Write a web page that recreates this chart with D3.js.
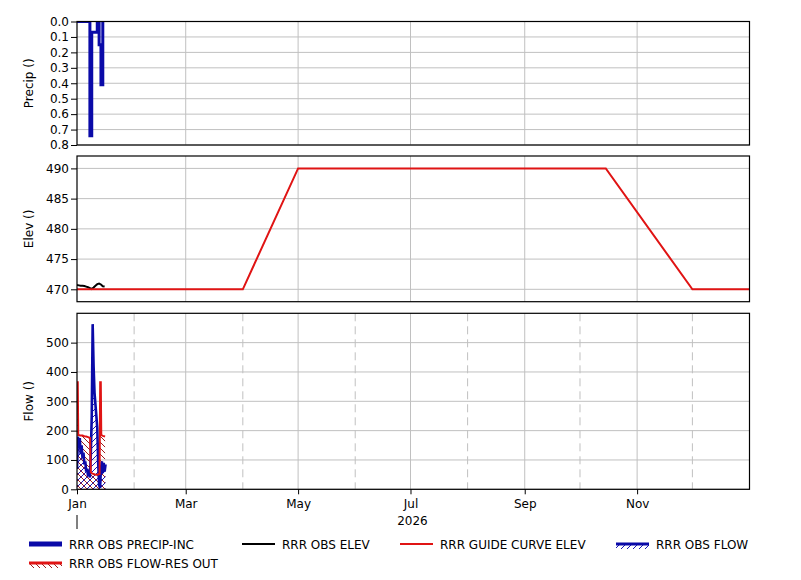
<!DOCTYPE html>
<html>
<head>
<meta charset="utf-8">
<script src="https://cdn.jsdelivr.net/npm/d3@7"></script>
<style>
body { margin: 0; background: #fff; }
text { font-family: "DejaVu Sans", Verdana, sans-serif; font-size: 12px; fill: #000; }
</style>
</head>
<body>
<svg id="chart" width="801" height="580"></svg>
<script>
// precipitation increments (daily)
var precipDates = ["2026-01-01","2026-01-02","2026-01-03","2026-01-04","2026-01-05","2026-01-06","2026-01-07",
  "2026-01-08","2026-01-09","2026-01-10","2026-01-11","2026-01-12","2026-01-13","2026-01-14","2026-01-15"];
var precipValues = [0, 0, 0, 0, 0, 0, 0, 0.74, 0.07, 0.07, 0.07, 0, 0.15, 0.41, 0];

// observed elevation (daily)
var elevDates = ["2026-01-01","2026-01-02","2026-01-03","2026-01-04","2026-01-05","2026-01-06","2026-01-07","2026-01-08",
  "2026-01-09","2026-01-10","2026-01-11","2026-01-12","2026-01-13","2026-01-14","2026-01-15","2026-01-16"];
var elevValues = [470.7, 470.65, 470.6, 470.6, 470.55, 470.45, 470.35, 470.2, 470.05, 470.3, 470.6, 470.85, 470.95, 470.8, 470.5, 470.45];

// guide curve
var guideDates = ["2026-01-01","2026-04-01","2026-05-01","2026-10-15","2026-12-01","2027-01-01"];
var guideValues = [470, 470, 490, 490, 470, 470];

// observed flow (12-hourly)
var flowDates = ["2026-01-01T00:00","2026-01-01T12:00","2026-01-02T00:00","2026-01-02T12:00","2026-01-03T00:00","2026-01-03T12:00",
  "2026-01-04T00:00","2026-01-04T12:00","2026-01-05T00:00","2026-01-05T12:00","2026-01-06T00:00","2026-01-06T12:00",
  "2026-01-07T00:00","2026-01-07T12:00","2026-01-08T00:00","2026-01-08T12:00","2026-01-09T00:00","2026-01-09T12:00",
  "2026-01-10T00:00","2026-01-10T12:00","2026-01-11T00:00","2026-01-11T12:00","2026-01-12T00:00","2026-01-12T12:00",
  "2026-01-13T00:00","2026-01-13T12:00","2026-01-14T00:00","2026-01-14T12:00","2026-01-15T00:00","2026-01-15T12:00",
  "2026-01-16T00:00","2026-01-16T12:00"];
var flowValues = [70, 180, 140, 175, 120, 150, 105, 125, 85, 95, 60, 70, 45, 55, 40, 120,
  250, 563, 420, 330, 290, 250, 210, 90, 15, 5, 70, 95, 55, 90, 60, 85];

// reservoir outflow
var resDates = ["2026-01-01T00:00","2026-01-01T10:00","2026-01-01T16:00","2026-01-02T00:00","2026-01-03T00:00","2026-01-04T00:00","2026-01-05T00:00",
  "2026-01-06T00:00","2026-01-07T00:00","2026-01-08T02:00","2026-01-08T12:00","2026-01-09T00:00","2026-01-10T00:00",
  "2026-01-11T00:00","2026-01-12T00:00","2026-01-13T06:00","2026-01-13T14:00","2026-01-13T22:00","2026-01-14T04:00",
  "2026-01-15T00:00","2026-01-16T06:00"];
var resValues = [365, 365, 185, 185, 183, 183, 181, 180, 178, 175, 58, 55, 52, 50, 50, 52, 365, 365, 185, 182, 180];

var precipTicks = [0, 0.1, 0.2, 0.3, 0.4, 0.5, 0.6, 0.7, 0.8];
var elevTicks = [470, 475, 480, 485, 490];
var flowTicks = [0, 100, 200, 300, 400, 500];

var BLUE = '#0a0aa8', RED = '#e01414', GRID = '#c0c0c0';
var dayParse = d3.utcParse('%Y-%m-%d');
var hourParse = d3.utcParse('%Y-%m-%dT%H:%M');

var svg = d3.select('#chart');
var defs = svg.append('defs');
defs.append('pattern').attr('id', 'hatchBlue').attr('patternUnits', 'userSpaceOnUse')
  .attr('width', 6).attr('height', 6)
  .append('path').attr('d', 'M0,6L6,0M-1,1L1,-1M5,7L7,5')
  .attr('stroke', '#1a1ab4').attr('stroke-width', 1);
defs.append('pattern').attr('id', 'hatchRed').attr('patternUnits', 'userSpaceOnUse')
  .attr('width', 6).attr('height', 6)
  .append('path').attr('d', 'M0,0L6,6M-1,5L1,7M5,-1L7,1')
  .attr('stroke', '#a01c1c').attr('stroke-width', 1);

var x = d3.scaleUtc()
  .domain([dayParse('2026-01-01'), dayParse('2027-01-01')])
  .range([77, 749.5]);
var majorMonths = d3.utcMonth.every(2).range(x.domain()[0], x.domain()[1]);
var minorMonths = d3.utcMonth.range(x.domain()[0], x.domain()[1]).filter(function(d) { return d.getUTCMonth() % 2 === 1; });

var panels = [
  { id: 'p1', top: 21.5, bottom: 145, domain: [0.8, 0], ticks: precipTicks, fmt: d3.format('.1f'), label: 'Precip ()', dashed: false },
  { id: 'p2', top: 156, bottom: 301.7, domain: [467.95, 492.05], ticks: elevTicks, fmt: d3.format('d'), label: 'Elev ()', dashed: false },
  { id: 'p3', top: 313.3, bottom: 489.3, domain: [0, 600], ticks: flowTicks, fmt: d3.format('d'), label: 'Flow ()', dashed: true }
];

panels.forEach(function(p) {
  p.y = d3.scaleLinear().domain(p.domain).range([p.bottom, p.top]);
  defs.append('clipPath').attr('id', 'clip-' + p.id)
    .append('rect').attr('x', x.range()[0]).attr('y', p.top)
    .attr('width', x.range()[1] - x.range()[0]).attr('height', p.bottom - p.top);
  var g = svg.append('g');
  // grid
  g.selectAll('.hg').data(p.ticks).enter().append('line')
    .attr('x1', x.range()[0]).attr('x2', x.range()[1])
    .attr('y1', function(d) { return p.y(d); }).attr('y2', function(d) { return p.y(d); })
    .attr('stroke', GRID).attr('stroke-width', 1);
  g.selectAll('.vg').data(majorMonths.slice(1)).enter().append('line')
    .attr('x1', function(d) { return x(d); }).attr('x2', function(d) { return x(d); })
    .attr('y1', p.top).attr('y2', p.bottom)
    .attr('stroke', GRID).attr('stroke-width', 1);
  if (p.dashed) {
    g.selectAll('.vd').data(minorMonths).enter().append('line')
      .attr('x1', function(d) { return x(d); }).attr('x2', function(d) { return x(d); })
      .attr('y1', p.top).attr('y2', p.bottom)
      .attr('stroke', GRID).attr('stroke-width', 1).attr('stroke-dasharray', '8,5');
  }
  p.plot = svg.append('g').attr('clip-path', 'url(#clip-' + p.id + ')');
  p.frame = svg.append('g');
  // y axis
  var ax = p.frame.append('g').attr('transform', 'translate(' + x.range()[0] + ',0)')
    .call(d3.axisLeft(p.y).tickValues(p.ticks).tickFormat(p.fmt).tickSize(6).tickPadding(2));
  ax.select('.domain').remove();
  ax.selectAll('text').style('font-family', '"DejaVu Sans", Verdana, sans-serif').style('font-size', '12px');
  p.frame.append('rect').attr('x', x.range()[0]).attr('y', p.top)
    .attr('width', x.range()[1] - x.range()[0]).attr('height', p.bottom - p.top)
    .attr('fill', 'none').attr('stroke', '#000').attr('stroke-width', 1.2);
  p.frame.append('text')
    .attr('transform', 'translate(33,' + ((p.top + p.bottom) / 2) + ') rotate(-90)')
    .attr('text-anchor', 'middle').text(p.label);
});

// precip
var precipData = precipDates.map(function(d, i) { return { t: dayParse(d), v: precipValues[i] }; });
panels[0].plot.append('path').datum(precipData)
  .attr('fill', 'none').attr('stroke', BLUE).attr('stroke-width', 3)
  .attr('d', d3.line().curve(d3.curveStepAfter)
    .x(function(d) { return x(d.t); }).y(function(d) { return panels[0].y(d.v); }));

// elevation
var y2 = panels[1].y;
var guideData = guideDates.map(function(d, i) { return { t: dayParse(d), v: guideValues[i] }; });
var elevData = elevDates.map(function(d, i) { return { t: dayParse(d), v: elevValues[i] }; });
panels[1].plot.append('path').datum(elevData)
  .attr('fill', 'none').attr('stroke', '#000').attr('stroke-width', 2)
  .attr('d', d3.line().x(function(d) { return x(d.t); }).y(function(d) { return y2(d.v); }));
panels[1].plot.append('path').datum(guideData)
  .attr('fill', 'none').attr('stroke', RED).attr('stroke-width', 2)
  .attr('d', d3.line().x(function(d) { return x(d.t); }).y(function(d) { return y2(d.v); }));

// flow
var y3 = panels[2].y;
var flowData = flowDates.map(function(d, i) { return { t: hourParse(d), v: flowValues[i] }; });
var resData = resDates.map(function(d, i) { return { t: hourParse(d), v: resValues[i] }; });
var area3 = d3.area().x(function(d) { return x(d.t); }).y0(y3(0)).y1(function(d) { return y3(d.v); });
var line3 = d3.line().x(function(d) { return x(d.t); }).y(function(d) { return y3(d.v); });
panels[2].plot.append('path').datum(flowData).attr('fill', 'url(#hatchBlue)').attr('d', area3);
panels[2].plot.append('path').datum(resData).attr('fill', 'url(#hatchRed)').attr('d', area3);
panels[2].plot.append('path').datum(flowData)
  .attr('fill', 'none').attr('stroke', BLUE).attr('stroke-width', 2.6).attr('d', line3);
panels[2].plot.append('path').datum(resData)
  .attr('fill', 'none').attr('stroke', RED).attr('stroke-width', 2).attr('d', line3);

// bottom axis
var xa = svg.append('g').attr('transform', 'translate(0,' + panels[2].bottom + ')')
  .call(d3.axisBottom(x).tickValues(majorMonths).tickFormat(d3.utcFormat('%b')).tickSize(5).tickPadding(5));
xa.select('.domain').remove();
xa.selectAll('text').style('font-family', '"DejaVu Sans", Verdana, sans-serif').style('font-size', '12px');
svg.append('text').attr('x', x(dayParse('2026-07-01')) + 2).attr('y', 525).attr('text-anchor', 'middle').text('2026');
svg.append('line').attr('x1', x.range()[0]).attr('x2', x.range()[0]).attr('y1', 515).attr('y2', 529)
  .attr('stroke', '#000').attr('stroke-width', 1);

// legend
var legend = [
  { label: 'RRR OBS PRECIP-INC', x: 29, y: 544, color: BLUE, w: 5, hatch: null },
  { label: 'RRR OBS ELEV', x: 242, y: 544, color: '#000', w: 2, hatch: null },
  { label: 'RRR GUIDE CURVE ELEV', x: 400, y: 544, color: RED, w: 2, hatch: null },
  { label: 'RRR OBS FLOW', x: 616, y: 544, color: BLUE, w: 3, hatch: 'url(#hatchBlue)' },
  { label: 'RRR OBS FLOW-RES OUT', x: 29, y: 563, color: RED, w: 3, hatch: 'url(#hatchRed)' }
];
var lg = svg.append('g').selectAll('g').data(legend).enter().append('g');
lg.filter(function(d) { return d.hatch; }).append('rect')
  .attr('x', function(d) { return d.x; }).attr('y', function(d) { return d.y + 1; })
  .attr('width', 33).attr('height', 4).attr('fill', function(d) { return d.hatch; });
lg.append('line')
  .attr('x1', function(d) { return d.x; }).attr('x2', function(d) { return d.x + 33; })
  .attr('y1', function(d) { return d.y; }).attr('y2', function(d) { return d.y; })
  .attr('stroke', function(d) { return d.color; }).attr('stroke-width', function(d) { return d.w; });
lg.append('text')
  .attr('x', function(d) { return d.x + 40; }).attr('y', function(d) { return d.y + 4.5; })
  .text(function(d) { return d.label; });
</script>
</body>
</html>
